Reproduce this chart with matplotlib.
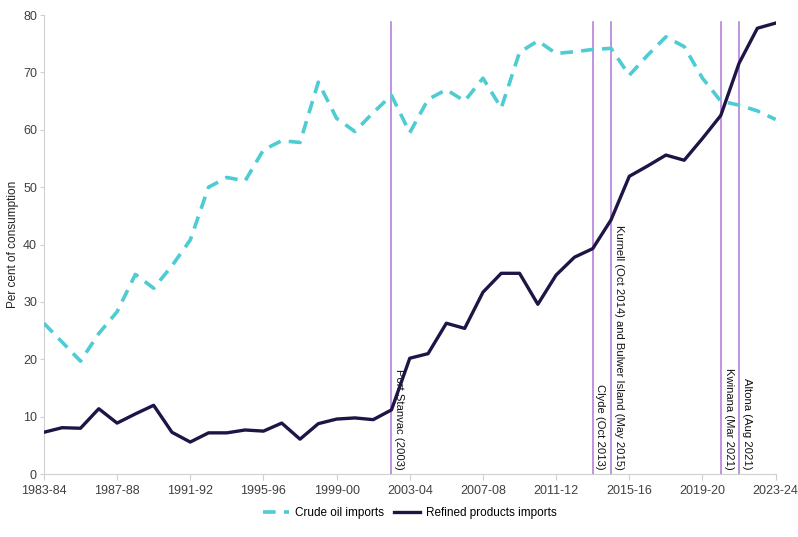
import matplotlib.pyplot as plt

plt.rcParams['font.family'] = ['Liberation Sans', 'DejaVu Sans']

years = ['%d-%02d' % (y, (y + 1) % 100) for y in range(1983, 2024)]

crude = [26.3, 23.0, 19.7, 24.5, 28.3, 34.8, 32.4, 36.3, 40.8, 50.0,
         51.7, 51.1, 56.5, 58.1, 57.8, 68.3, 62.0, 59.7, 63.0, 66.0,
         59.5, 65.3, 67.0, 65.0, 69.0, 63.8, 73.5, 75.5, 73.3, 73.6,
         74.0, 74.2, 69.5, 73.0, 76.2, 74.5, 69.0, 65.0, 64.3, 63.3,
         61.8]

refined = [7.3, 8.1, 8.0, 11.4, 8.9, 10.5, 12.0, 7.3, 5.6, 7.2,
           7.2, 7.7, 7.5, 8.9, 6.1, 8.8, 9.6, 9.8, 9.5, 11.2,
           20.2, 21.0, 26.3, 25.4, 31.7, 35.0, 35.0, 29.6, 34.7, 37.8,
           39.3, 44.3, 51.9, 53.7, 55.6, 54.7, 58.5, 62.5, 71.6, 77.7,
           78.6]

closures = ['Port Stanvac (2003)', 'Clyde (Oct 2013)',
            'Kurnell (Oct 2014) and Bulwer Island (May 2015)',
            'Kwinana (Mar 2021)', 'Altona (Aug 2021)']
closure_years = ['2002-03', '2013-14', '2014-15', '2020-21', '2021-22']

fig = plt.figure(figsize=(7.98, 5.37), dpi=100)
ax = fig.add_axes([0.055, 0.117, 0.917, 0.855])

x = list(range(len(years)))
for name, yr in zip(closures, closure_years):
    xi = years.index(yr)
    ax.plot([xi, xi], [0, 78.7], color='#B77FD9', lw=1.2, zorder=1)
    ax.text(xi + 0.15, 0.8, name, rotation=270, ha='left', va='bottom',
            fontsize=8.1, color='#111111', zorder=2)

ax.plot(x, crude, color='#4DCCD3', lw=2.6, dashes=(3.5, 2.3),
        label='Crude oil imports', zorder=3)
ax.plot(x, refined, color='#1F1446', lw=2.4, label='Refined products imports',
        zorder=3)

ax.set_xlim(0, len(years) - 1)
ax.set_ylim(0, 80)
ax.set_xticks(x[::4])
ax.set_xticklabels(years[::4])
ax.set_yticks(range(0, 81, 10))
ax.tick_params(colors='#404040', labelsize=9, length=4, color='#D0D0D0')
ax.tick_params(axis='y', length=3, pad=2)
ax.set_ylabel('Per cent of consumption', fontsize=8.5, color='#222222',
              labelpad=3)
for s in ['top', 'right']:
    ax.spines[s].set_visible(False)
for s in ['left', 'bottom']:
    ax.spines[s].set_color('#D0D0D0')

ax.legend(loc='upper center', bbox_to_anchor=(0.5, -0.048), ncol=2,
          frameon=False, fontsize=8.5, handlelength=2.2, handletextpad=0.5,
          columnspacing=0.9)

fig.savefig('out.png', dpi=100)
